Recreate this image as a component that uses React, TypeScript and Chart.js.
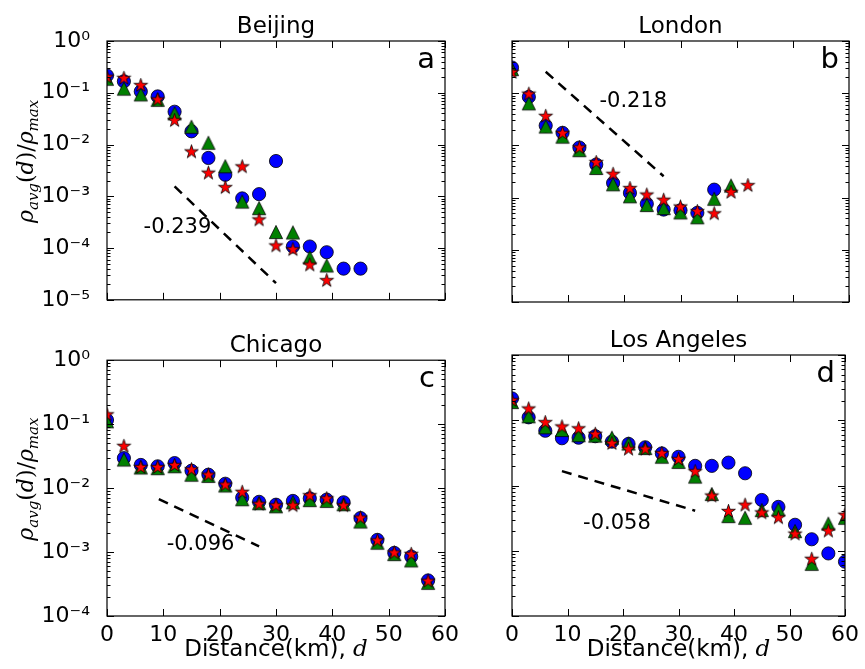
import React, { useEffect, useRef } from "react";
import { Chart, registerables } from "chart.js";

Chart.register(...registerables);

// ---------- data ----------
const distances = [0, 3, 6, 9, 12, 15, 18, 21, 24, 27, 30, 33, 36, 39, 42, 45, 48, 51, 54, 57, 60];
const xTickValues = [0, 10, 20, 30, 40, 50, 60];
const yTickValuesTop = [1e-5, 1e-4, 1e-3, 1e-2, 1e-1, 1];
const yTickValuesBottom = [1e-4, 1e-3, 1e-2, 1e-1, 1];

// Beijing
const beijingCircles = [0.215, 0.166, 0.106, 0.085, 0.043, 0.018, 0.0055, 0.0026, 0.00091, 0.0011, 0.0048, 0.000107, 0.000107, 8.3e-5, 4.0e-5, 4.0e-5];
const beijingTriangles = [0.186, 0.12, 0.093, 0.073, 0.04, 0.022, 0.0108, 0.0038, 0.00079, 0.00059, 0.000204, 0.0002, 6.6e-5, 4.6e-5];
const beijingStars = [0.2, 0.19, 0.138, 0.073, 0.029, 0.0072, 0.0028, 0.00147, 0.0037, 0.00035, 0.00011, 9.3e-5, 4.7e-5, 2.35e-5];
const beijingFitX = [12, 30];
const beijingFitY = [0.00155, 2.1e-5];

// London
const londonCircles = [0.31, 0.085, 0.024, 0.0174, 0.0091, 0.0043, 0.0019, 0.00123, 0.00076, 0.00059, 0.00057, 0.00051, 0.00142];
const londonTriangles = [0.29, 0.064, 0.023, 0.0147, 0.0081, 0.0037, 0.0018, 0.00106, 0.00072, 0.00063, 0.00052, 0.00042, 0.00095, 0.0017];
const londonStars = [0.25, 0.096, 0.036, 0.017, 0.009, 0.0047, 0.0028, 0.00149, 0.00112, 0.00089, 0.00066, 0.00054, 0.00049, 0.00126, 0.0017];
const londonFitX = [6, 27];
const londonFitY = [0.257, 0.00257];

// Chicago
const chicagoCircles = [0.116, 0.0294, 0.023, 0.0219, 0.0246, 0.0187, 0.0162, 0.0117, 0.0071, 0.0061, 0.0055, 0.0063, 0.0069, 0.0066, 0.006, 0.0034, 0.00155, 0.00097, 0.00085, 0.00036];
const chicagoTriangles = [0.111, 0.028, 0.021, 0.0205, 0.022, 0.0162, 0.0155, 0.011, 0.0067, 0.0058, 0.0052, 0.006, 0.0065, 0.0063, 0.0056, 0.003, 0.0014, 0.00093, 0.00074, 0.00033];
const chicagoStars = [0.14, 0.045, 0.021, 0.021, 0.0226, 0.0194, 0.016, 0.0112, 0.0086, 0.0056, 0.0053, 0.0053, 0.0076, 0.0068, 0.0053, 0.0034, 0.0015, 0.00097, 0.00092, 0.00035];
const chicagoFitX = [9.2, 27];
const chicagoFitY = [0.0067, 0.00123];

// Los Angeles
const laCircles = [0.216, 0.111, 0.069, 0.053, 0.054, 0.057, 0.047, 0.0434, 0.0385, 0.031, 0.0275, 0.02, 0.02, 0.0224, 0.0154, 0.006, 0.0047, 0.0025, 0.0015, 0.00091, 0.00068];
const laTriangles = [0.19, 0.115, 0.078, 0.071, 0.059, 0.058, 0.054, 0.044, 0.0375, 0.0276, 0.023, 0.0137, 0.0074, 0.0034, 0.0032, 0.0042, 0.0043, 0.002, 0.00063, 0.0026, 0.0032];
const laStars = [0.2, 0.149, 0.092, 0.079, 0.074, 0.061, 0.044, 0.036, 0.036, 0.031, 0.025, 0.0163, 0.0069, 0.004, 0.005, 0.0038, 0.0032, 0.0018, 0.00074, 0.002, 0.0035];
const laFitX = [9, 33];
const laFitY = [0.0166, 0.0041];

const slopeLabels = ["-0.239", "-0.218", "-0.096", "-0.058"];
const cityNames = ["Beijing", "London", "Chicago", "Los Angeles"];
const panelLetters = ["a", "b", "c", "d"];

// ---------- layout / style ----------
const SANS = '"DejaVu Sans", sans-serif';
const SERIF = '"DejaVu Serif", serif';

type Area = { l: number; t: number; r: number; b: number };
type PanelCfg = {
  idx: number;
  left: number; top: number; w: number; h: number;
  area: Area;
  yTicks: number[];
  showX: boolean; showY: boolean;
  circles: number[]; triangles: number[]; stars: number[];
  fitX: number[]; fitY: number[];
  textAt: { x: number; y: number };
};

const panels: PanelCfg[] = [
  { idx: 0, left: 0, top: 0, w: 470, h: 330, area: { l: 107, t: 41, r: 445, b: 302 }, yTicks: yTickValuesTop, showX: false, showY: true,
    circles: beijingCircles, triangles: beijingTriangles, stars: beijingStars, fitX: beijingFitX, fitY: beijingFitY, textAt: { x: 12.5, y: 2.5e-4 } },
  { idx: 1, left: 470, top: 0, w: 395, h: 330, area: { l: 42, t: 41, r: 379, b: 302 }, yTicks: yTickValuesTop, showX: false, showY: false,
    circles: londonCircles, triangles: londonTriangles, stars: londonStars, fitX: londonFitX, fitY: londonFitY, textAt: { x: 21.6, y: 0.068 } },
  { idx: 2, left: 0, top: 330, w: 470, h: 339, area: { l: 107, t: 25, r: 445, b: 286 }, yTicks: yTickValuesBottom, showX: true, showY: true,
    circles: chicagoCircles, triangles: chicagoTriangles, stars: chicagoStars, fitX: chicagoFitX, fitY: chicagoFitY, textAt: { x: 16.6, y: 1.33e-3 } },
  { idx: 3, left: 470, top: 330, w: 395, h: 339, area: { l: 42, t: 25, r: 379, b: 286 }, yTicks: yTickValuesBottom, showX: true, showY: false,
    circles: laCircles, triangles: laTriangles, stars: laStars, fitX: laFitX, fitY: laFitY, textAt: { x: 18.9, y: 2.6e-3 } },
];

function supText(v: number): string {
  const e = Math.round(Math.log10(v));
  const map: Record<string, string> = { "0": "\u2070", "1": "\u00b9", "2": "\u00b2", "3": "\u00b3", "4": "\u2074", "5": "\u2075", "-": "\u207b" };
  return "10" + String(e).split("").map((c) => map[c] || c).join("");
}

function makeStar(r: number): HTMLCanvasElement {
  const size = Math.ceil(r * 2 + 4);
  const c = document.createElement("canvas");
  c.width = size; c.height = size;
  const g = c.getContext("2d")!;
  const cx = size / 2, cy = size / 2;
  g.beginPath();
  for (let i = 0; i < 10; i++) {
    const rad = i % 2 === 0 ? r : r * 0.381966;
    const a = -Math.PI / 2 + (i * Math.PI) / 5;
    const x = cx + rad * Math.cos(a), y = cy + rad * Math.sin(a);
    if (i === 0) g.moveTo(x, y); else g.lineTo(x, y);
  }
  g.closePath();
  g.fillStyle = "#ff0000"; g.fill();
  g.lineWidth = 0.8; g.strokeStyle = "#000"; g.stroke();
  return c;
}

function makeTriangle(s: number): HTMLCanvasElement {
  const size = Math.ceil(s * 2 + 4);
  const c = document.createElement("canvas");
  c.width = size; c.height = size;
  const g = c.getContext("2d")!;
  const cx = size / 2, cy = size / 2;
  g.beginPath();
  g.moveTo(cx, cy - s);
  g.lineTo(cx + s, cy + s);
  g.lineTo(cx - s, cy + s);
  g.closePath();
  g.fillStyle = "#008000"; g.fill();
  g.lineWidth = 0.8; g.strokeStyle = "#000"; g.stroke();
  return c;
}

function toPoints(vals: number[]) {
  return vals.map((v, i) => ({ x: distances[i], y: v }));
}

type Seg = { t: string; f: string; dy: number };
function drawSegments(ctx: CanvasRenderingContext2D, segs: Seg[], startX: number) {
  let x = startX;
  for (const s of segs) {
    ctx.font = s.f;
    ctx.fillText(s.t, x, s.dy);
    x += ctx.measureText(s.t).width;
  }
}
function segWidth(ctx: CanvasRenderingContext2D, segs: Seg[]) {
  let w = 0;
  for (const s of segs) { ctx.font = s.f; w += ctx.measureText(s.t).width; }
  return w;
}

const framePlugin = {
  id: "frame",
  afterDraw(chart: any, _args: any, opts: any) {
    const { ctx, chartArea: a, scales } = chart;
    const xs = scales.x, ys = scales.y;
    ctx.save();
    ctx.strokeStyle = "#000";
    ctx.lineWidth = 1;
    ctx.beginPath();
    for (const v of xTickValues) {
      const px = Math.round(xs.getPixelForValue(v)) + 0.5;
      ctx.moveTo(px, a.bottom); ctx.lineTo(px, a.bottom - 7);
      ctx.moveTo(px, a.top); ctx.lineTo(px, a.top + 7);
    }
    const yt: number[] = opts.yTicks;
    for (const v of yt) {
      const py = Math.round(ys.getPixelForValue(v)) + 0.5;
      ctx.moveTo(a.left, py); ctx.lineTo(a.left + 7, py);
      ctx.moveTo(a.right, py); ctx.lineTo(a.right - 7, py);
    }
    for (let k = 0; k < yt.length - 1; k++) {
      for (let m = 2; m <= 9; m++) {
        const py = Math.round(ys.getPixelForValue(yt[k] * m)) + 0.5;
        ctx.moveTo(a.left, py); ctx.lineTo(a.left + 3.5, py);
        ctx.moveTo(a.right, py); ctx.lineTo(a.right - 3.5, py);
      }
    }
    ctx.stroke();
    ctx.lineWidth = 1.2;
    ctx.strokeRect(a.left, a.top, a.right - a.left, a.bottom - a.top);

    ctx.fillStyle = "#000";
    // title
    ctx.font = `23px ${SANS}`;
    ctx.textAlign = "center";
    ctx.textBaseline = "alphabetic";
    ctx.fillText(opts.title, (a.left + a.right) / 2, a.top - 8);
    // panel letter
    ctx.font = `29px ${SANS}`;
    ctx.textAlign = "right";
    ctx.fillText(opts.letter, a.right - 10, a.top + 27);
    // slope annotation
    ctx.font = `21px ${SANS}`;
    ctx.textAlign = "center";
    ctx.textBaseline = "middle";
    ctx.fillText(opts.slope, xs.getPixelForValue(opts.textAt.x), ys.getPixelForValue(opts.textAt.y));

    ctx.textAlign = "left";
    ctx.textBaseline = "alphabetic";
    if (opts.showY) {
      const segs: Seg[] = [
        { t: "\u03c1", f: `italic 22px ${SERIF}`, dy: 0 },
        { t: "avg", f: `italic 15px ${SERIF}`, dy: 5 },
        { t: "(", f: `22px ${SERIF}`, dy: 0 },
        { t: "d", f: `italic 22px ${SERIF}`, dy: 0 },
        { t: ")", f: `22px ${SERIF}`, dy: 0 },
        { t: "/", f: `22px ${SERIF}`, dy: 0 },
        { t: "\u03c1", f: `italic 22px ${SERIF}`, dy: 0 },
        { t: "max", f: `italic 15px ${SERIF}`, dy: 5 },
      ];
      const w = segWidth(ctx, segs);
      ctx.save();
      ctx.translate(33, (a.top + a.bottom) / 2 - 9);
      ctx.rotate(-Math.PI / 2);
      drawSegments(ctx, segs, -w / 2);
      ctx.restore();
    }
    if (opts.showX) {
      const segs: Seg[] = [
        { t: "Distance(km), ", f: `23px ${SANS}`, dy: 0 },
        { t: "d", f: `italic 23px ${SERIF}`, dy: 0 },
      ];
      const w = segWidth(ctx, segs);
      ctx.save();
      ctx.translate((a.left + a.right) / 2, a.bottom + 40);
      drawSegments(ctx, segs, -w / 2);
      ctx.restore();
    }
    ctx.restore();
  },
};

function Panel({ cfg }: { cfg: PanelCfg }) {
  const ref = useRef<HTMLCanvasElement>(null);
  useEffect(() => {
    const canvas = ref.current!;
    const star = makeStar(7.2);
    const tri = makeTriangle(6.6);
    const yW = cfg.showY ? 100 : 0;
    const xH = cfg.showX ? 40 : 0;
    const a = cfg.area;
    const chart = new Chart(canvas, {
      type: "scatter",
      data: {
        datasets: [
          {
            data: cfg.fitX.map((x, i) => ({ x, y: cfg.fitY[i] })),
            showLine: true,
            borderColor: "#000",
            borderWidth: 2.5,
            borderDash: [10, 7],
            pointRadius: 0,
            clip: 0,
            order: 0,
          } as any,
          {
            data: toPoints(cfg.stars),
            pointStyle: star,
            pointRadius: 7,
            clip: 0,
            order: 1,
          },
          {
            data: toPoints(cfg.triangles),
            pointStyle: tri,
            pointRadius: 7,
            clip: 0,
            order: 2,
          },
          {
            data: toPoints(cfg.circles),
            pointStyle: "circle",
            pointRadius: 6.6,
            pointBackgroundColor: "#0000ff",
            pointBorderColor: "#000",
            pointBorderWidth: 0.8,
            clip: 0,
            order: 3,
          },
        ],
      },
      options: {
        responsive: false,
        maintainAspectRatio: false,
        animation: false,
        events: [],
        layout: {
          padding: { left: a.l - yW, top: a.t, right: cfg.w - a.r, bottom: cfg.h - a.b - xH },
        },
        plugins: {
          legend: { display: false },
          tooltip: { enabled: false },
          frame: {
            title: cityNames[cfg.idx],
            letter: panelLetters[cfg.idx],
            slope: slopeLabels[cfg.idx],
            textAt: cfg.textAt,
            yTicks: cfg.yTicks,
            showX: cfg.showX,
            showY: cfg.showY,
          },
        } as any,
        scales: {
          x: {
            type: "linear",
            position: "bottom",
            min: 0,
            max: 60,
            grid: { display: false, drawTicks: false },
            border: { display: false },
            ticks: { display: cfg.showX, font: { family: SANS, size: 22 }, color: "#000", padding: 6, maxRotation: 0, autoSkip: false },
            afterBuildTicks: (s: any) => { s.ticks = xTickValues.map((v) => ({ value: v })); },
            afterFit: (s: any) => { s.height = xH; },
          },
          y: {
            type: "logarithmic",
            position: "left",
            min: cfg.yTicks[0],
            max: cfg.yTicks[cfg.yTicks.length - 1],
            grid: { display: false, drawTicks: false },
            border: { display: false },
            ticks: { display: cfg.showY, font: { family: SANS, size: 22 }, color: "#000", padding: 17, callback: (v: any) => supText(Number(v)) },
            afterBuildTicks: (s: any) => { s.ticks = cfg.yTicks.map((v) => ({ value: v })); },
            afterFit: (s: any) => { s.width = yW; },
          },
        },
      } as any,
      plugins: [framePlugin],
    });
    return () => chart.destroy();
  }, [cfg]);
  return (
    <canvas
      ref={ref}
      width={cfg.w}
      height={cfg.h}
      style={{ position: "absolute", left: cfg.left, top: cfg.top, width: cfg.w, height: cfg.h }}
    />
  );
}

export default function App() {
  return (
    <div style={{ position: "absolute", left: 0, top: 0, width: 865, height: 669, background: "#fff" }}>
      {panels.map((p) => (
        <Panel key={p.idx} cfg={p} />
      ))}
    </div>
  );
}
